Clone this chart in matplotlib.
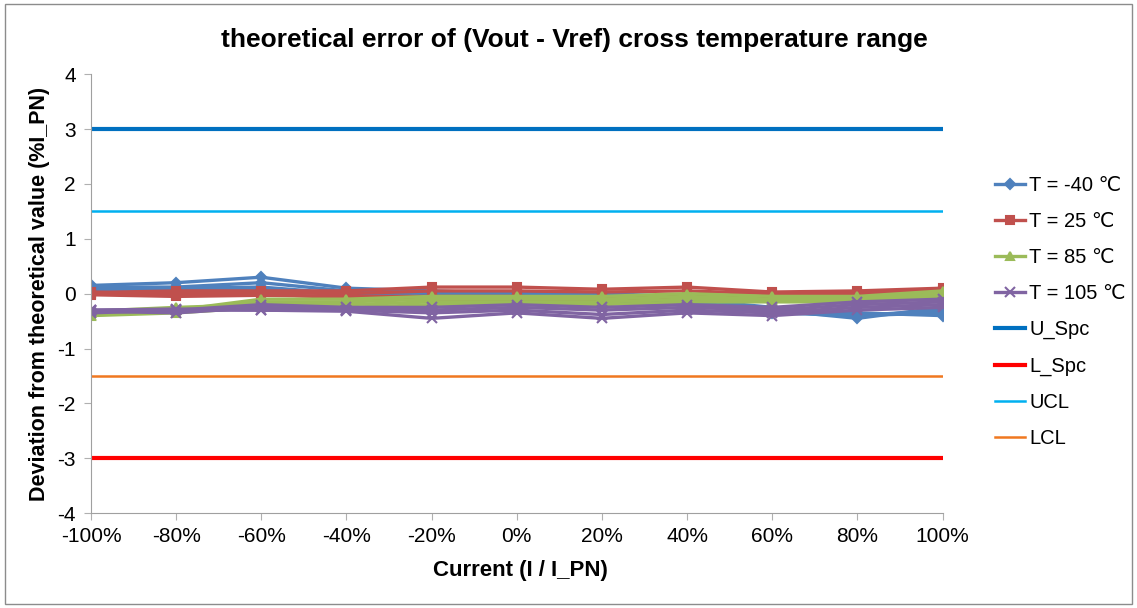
import matplotlib.pyplot as plt
import matplotlib.patches as mpatches

plt.rcParams['font.family'] = ['Liberation Sans', 'DejaVu Sans', 'Noto Sans CJK SC']
plt.rcParams['axes.unicode_minus'] = False

# x categories (current, % of I_PN)
x_labels = ['-100%', '-80%', '-60%', '-40%', '-20%', '0%', '20%', '40%', '60%', '80%', '100%']

# several devices measured at each temperature
t_m40 = [
    [0.15, 0.20, 0.30, 0.10, 0.05, 0.00, 0.00, -0.05, -0.30, -0.45, -0.25],
    [0.12, 0.12, 0.20, 0.05, 0.00, -0.02, -0.05, -0.10, -0.25, -0.40, -0.35],
    [0.10, 0.10, 0.12, 0.00, -0.05, -0.05, -0.10, -0.15, -0.30, -0.35, -0.40],
    [0.08, 0.05, 0.08, -0.02, -0.08, -0.10, -0.15, -0.20, -0.35, -0.40, -0.30],
]
t_25 = [
    [0.02, 0.05, 0.05, 0.05, 0.12, 0.12, 0.08, 0.12, 0.03, 0.05, 0.10],
    [0.00, 0.00, 0.02, 0.00, 0.05, 0.05, 0.03, 0.05, 0.00, 0.02, 0.05],
    [-0.02, -0.05, -0.03, -0.05, -0.05, -0.05, -0.08, -0.02, -0.05, -0.02, 0.00],
    [0.03, -0.02, 0.00, -0.08, -0.10, -0.12, -0.10, -0.08, -0.10, -0.05, 0.05],
]
t_85 = [
    [-0.35, -0.30, -0.10, -0.10, -0.05, -0.05, -0.05, 0.00, -0.05, -0.05, 0.05],
    [-0.38, -0.30, -0.15, -0.15, -0.10, -0.10, -0.10, -0.05, -0.10, -0.08, 0.00],
    [-0.32, -0.25, -0.20, -0.20, -0.15, -0.15, -0.15, -0.10, -0.12, -0.10, -0.05],
    [-0.40, -0.35, -0.25, -0.25, -0.20, -0.20, -0.20, -0.15, -0.15, -0.15, -0.08],
]
t_105 = [
    [-0.30, -0.30, -0.20, -0.25, -0.25, -0.20, -0.25, -0.20, -0.25, -0.15, -0.10],
    [-0.32, -0.35, -0.25, -0.30, -0.30, -0.25, -0.30, -0.25, -0.30, -0.20, -0.15],
    [-0.35, -0.30, -0.30, -0.30, -0.35, -0.30, -0.38, -0.30, -0.35, -0.25, -0.20],
    [-0.30, -0.28, -0.30, -0.32, -0.45, -0.35, -0.45, -0.35, -0.40, -0.30, -0.25],
]

u_spc = 3.0
l_spc = -3.0
ucl = 1.5
lcl = -1.5

fig = plt.figure(figsize=(11.37, 6.08), dpi=100)
fig.patches.append(mpatches.Rectangle((0.004, 0.006), 0.992, 0.988, transform=fig.transFigure,
                                      fill=False, edgecolor='#8c8c8c', linewidth=1))
ax = fig.add_axes([0.080, 0.156, 0.749, 0.722])

x = list(range(len(x_labels)))

groups = [
    (t_m40, '#4F81BD', 'D', 5, 'T = -40 \u2103'),
    (t_25, '#C0504D', 's', 6, 'T = 25 \u2103'),
    (t_85, '#9BBB59', '^', 6, 'T = 85 \u2103'),
    (t_105, '#8064A2', 'x', 7, 'T = 105 \u2103'),
]
handles = []
for data, col, mk, ms, lab in groups:
    for i, row in enumerate(data):
        h, = ax.plot(x, row, color=col, marker=mk, markersize=ms, linewidth=2.4,
                     markeredgewidth=1.5, label=lab if i == 0 else None)
        if i == 0:
            handles.append(h)

xl = [x[0], x[-1]]
h1, = ax.plot(xl, [u_spc, u_spc], color='#0070C0', linewidth=3, label='U_Spc')
h2, = ax.plot(xl, [l_spc, l_spc], color='#FF0000', linewidth=3, label='L_Spc')
h3, = ax.plot(xl, [ucl, ucl], color='#00B0F0', linewidth=1.8, label='UCL')
h4, = ax.plot(xl, [lcl, lcl], color='#F07820', linewidth=1.8, label='LCL')
handles += [h1, h2, h3, h4]

ax.set_xlim(x[0], x[-1])
ax.set_ylim(-4, 4)
ax.set_xticks(x)
ax.set_xticklabels(x_labels, fontsize=15)
ax.set_yticks(range(-4, 5))
ax.tick_params(axis='y', labelsize=15, length=5, color='#b0b0b0', pad=6)
ax.tick_params(axis='x', length=5, color='#b0b0b0', pad=5)
for s in ['top', 'right']:
    ax.spines[s].set_visible(False)
for s in ['left', 'bottom']:
    ax.spines[s].set_color('#a0a0a0')

fig.text(0.505, 0.934, 'theoretical error of (Vout - Vref) cross temperature range',
         fontsize=19, fontweight='bold', ha='center', va='center')
fig.text(0.458, 0.062, 'Current (I / I_PN)', fontsize=16, fontweight='bold',
         ha='center', va='center')
fig.text(0.035, 0.516, 'Deviation from theoretical value (%I_PN)', fontsize=15.5,
         fontweight='bold', rotation=90, ha='center', va='center')

fig.legend(handles=handles, loc='center left', bbox_to_anchor=(0.859, 0.487), frameon=False,
           fontsize=14.5, handlelength=1.5, handletextpad=0.2, labelspacing=0.85)

fig.savefig('out.png', dpi=100)
